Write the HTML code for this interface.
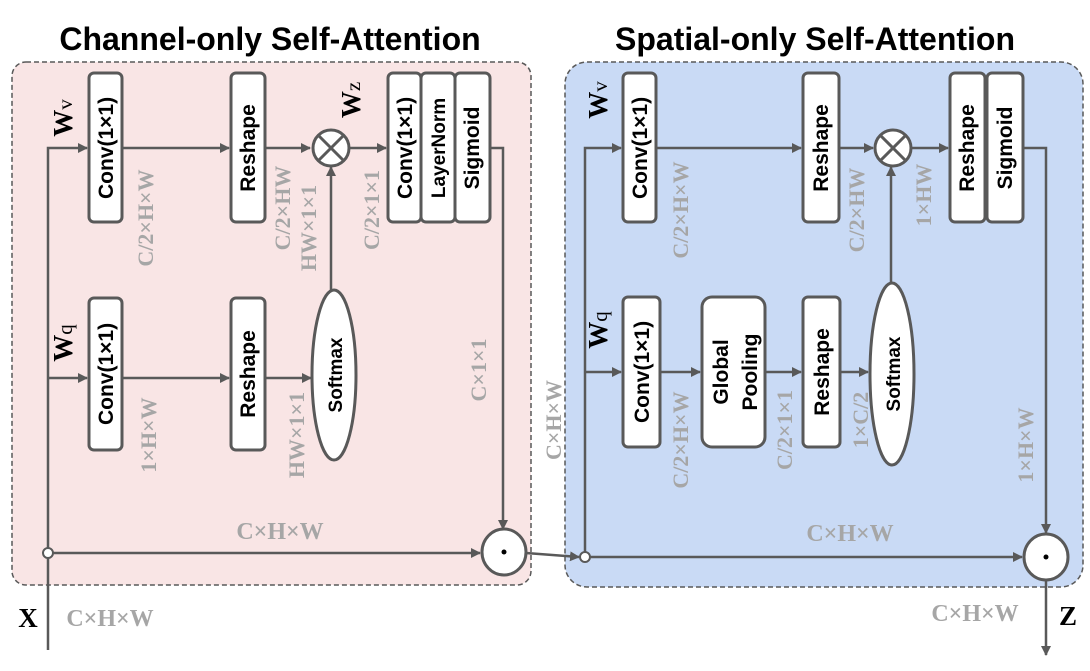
<!DOCTYPE html>
<html><head><meta charset="utf-8"><style>
html,body{margin:0;padding:0;background:#fff;width:1090px;height:671px;overflow:hidden}
svg{display:block}
.b{fill:#fff;stroke:#595959;stroke-width:3}
.t{font-family:"Liberation Sans",sans-serif;font-weight:bold;font-size:21px;fill:#000}
.g{font-family:"Liberation Serif",serif;font-weight:bold;font-size:22px;fill:#a6a6a6}
.w{font-family:"Liberation Serif",serif;font-weight:bold;font-size:27px;fill:#000}
.l{stroke:#595959;stroke-width:2.5;fill:none}
</style></head><body>
<svg width="1090" height="671" viewBox="0 0 1090 671">
<defs><marker id="a" markerWidth="10" markerHeight="10" refX="9" refY="5" orient="auto" markerUnits="userSpaceOnUse"><path d="M0,0 L10,5 L0,10 z" fill="#595959"/></marker></defs>
<text x="270" y="50" text-anchor="middle" style="font-family:'Liberation Sans',sans-serif;font-weight:bold;font-size:32px">Channel-only Self-Attention</text>
<text x="815" y="50" text-anchor="middle" style="font-family:'Liberation Sans',sans-serif;font-weight:bold;font-size:32px">Spatial-only Self-Attention</text>
<rect x="12" y="62" width="519" height="523" rx="14" fill="#f9e5e5" stroke="#595959" stroke-width="1.5" stroke-dasharray="5,3"/>
<rect x="565" y="62" width="518" height="525" rx="22" fill="#c9daf5" stroke="#595959" stroke-width="1.5" stroke-dasharray="5,3"/>

<path class="l" d="M48,650 V148 H87" marker-end="url(#a)"/>
<path class="l" d="M48,378 H87" marker-end="url(#a)"/>
<path class="l" d="M122,148 H229" marker-end="url(#a)"/>
<path class="l" d="M266,148 H310" marker-end="url(#a)"/>
<path class="l" d="M122,378 H229" marker-end="url(#a)"/>
<path class="l" d="M266,378 H311" marker-end="url(#a)"/>
<path class="l" d="M331,290 V167" marker-end="url(#a)"/>
<path class="l" d="M349,148 H386" marker-end="url(#a)"/>
<path class="l" d="M490,148 H503 V529" marker-end="url(#a)"/>
<path class="l" d="M53,553 H480" marker-end="url(#a)"/>
<path class="l" d="M526,553 L579,557" marker-end="url(#a)"/>
<circle cx="48" cy="553" r="5" fill="#fff" stroke="#595959" stroke-width="2"/>
<ellipse cx="504" cy="552" rx="22" ry="23" class="b"/><circle cx="504" cy="552" r="2.5" fill="#000"/>
<circle cx="331" cy="148" r="18" class="b"/><path d="M318,135 L344,161 M344,135 L318,161" stroke="#595959" stroke-width="3"/>

<rect x="89" y="73" width="33" height="149" rx="5" class="b"/>
<rect x="231" y="73" width="34" height="149" rx="5" class="b"/>
<rect x="388" y="73" width="33" height="149" rx="5" class="b"/>
<rect x="421" y="73" width="34" height="149" rx="5" class="b"/>
<rect x="455" y="73" width="35" height="149" rx="5" class="b"/>
<rect x="89" y="298" width="33" height="152" rx="5" class="b"/>
<rect x="231" y="298" width="34" height="152" rx="5" class="b"/>
<ellipse cx="334" cy="375" rx="22" ry="85" class="b"/>

<g class="t" text-anchor="middle">
<text transform="translate(106,148) rotate(-90)" dy="7">Conv(1×1)</text>
<text transform="translate(248,148) rotate(-90)" dy="7">Reshape</text>
<text transform="translate(405,148) rotate(-90)" dy="7">Conv(1×1)</text>
<text transform="translate(438,148) rotate(-90)" dy="7" style="font-size:19px">LayerNorm</text>
<text transform="translate(472,148) rotate(-90)" dy="7">Sigmoid</text>
<text transform="translate(106,374) rotate(-90)" dy="7">Conv(1×1)</text>
<text transform="translate(248,374) rotate(-90)" dy="7">Reshape</text>
<text transform="translate(335,375) rotate(-90)" dy="7" style="font-size:19px">Softmax</text>
</g>
<g class="w" text-anchor="middle">
<text transform="translate(63,118) rotate(-90)" dy="9">W<tspan style="font-weight:normal;font-size:21px">v</tspan></text>
<text transform="translate(63,343) rotate(-90)" dy="9">W<tspan style="font-weight:normal;font-size:21px">q</tspan></text>
<text transform="translate(351,100) rotate(-90)" dy="9">W<tspan style="font-weight:normal;font-size:21px">z</tspan></text>
<text transform="translate(598,100) rotate(-90)" dy="9">W<tspan style="font-weight:normal;font-size:21px">v</tspan></text>
<text transform="translate(598,330) rotate(-90)" dy="9">W<tspan style="font-weight:normal;font-size:21px">q</tspan></text>
</g>
<g class="g" text-anchor="middle">
<text transform="translate(145,218) rotate(-90)" dy="8">C/2×H×W</text>
<text transform="translate(282,208) rotate(-90)" dy="8">C/2×HW</text>
<text transform="translate(308,228) rotate(-90)" dy="8">HW×1×1</text>
<text transform="translate(371,210) rotate(-90)" dy="8">C/2×1×1</text>
<text transform="translate(478,370) rotate(-90)" dy="8">C×1×1</text>
<text transform="translate(148,435) rotate(-90)" dy="8">1×H×W</text>
<text transform="translate(296,435) rotate(-90)" dy="8">HW×1×1</text>
<text transform="translate(553,420) rotate(-90)" dy="8">C×H×W</text>
<text x="280" y="539" style="font-size:24px">C×H×W</text>
<text x="110" y="626" style="font-size:24px">C×H×W</text>
<text transform="translate(680,210) rotate(-90)" dy="8">C/2×H×W</text>
<text transform="translate(856,210) rotate(-90)" dy="8">C/2×HW</text>
<text transform="translate(923,195) rotate(-90)" dy="8">1×HW</text>
<text transform="translate(680,440) rotate(-90)" dy="8">C/2×H×W</text>
<text transform="translate(784,430) rotate(-90)" dy="8">C/2×1×1</text>
<text transform="translate(860,420) rotate(-90)" dy="8">1×C/2</text>
<text transform="translate(1025,445) rotate(-90)" dy="8">1×H×W</text>
<text x="850" y="541" style="font-size:24px">C×H×W</text>
<text x="975" y="621" style="font-size:24px">C×H×W</text>
</g>
<text x="28" y="627" text-anchor="middle" class="w" style="font-size:27px">X</text>
<text x="1068" y="625" text-anchor="middle" class="w" style="font-size:27px">Z</text>

<path class="l" d="M585,552 V148 H621" marker-end="url(#a)"/>
<path class="l" d="M585,372 H621" marker-end="url(#a)"/>
<path class="l" d="M656,148 H801" marker-end="url(#a)"/>
<path class="l" d="M839,148 H873" marker-end="url(#a)"/>
<path class="l" d="M891,283 V167" marker-end="url(#a)"/>
<path class="l" d="M911,148 H948" marker-end="url(#a)"/>
<path class="l" d="M1023,148 H1046 V533" marker-end="url(#a)"/>
<path class="l" d="M660,372 H700" marker-end="url(#a)"/>
<path class="l" d="M766,372 H801" marker-end="url(#a)"/>
<path class="l" d="M840,372 H868" marker-end="url(#a)"/>
<path class="l" d="M590,557 H1022" marker-end="url(#a)"/>
<path class="l" d="M1046,580 V655" marker-end="url(#a)"/>
<circle cx="585" cy="557" r="5" fill="#fff" stroke="#595959" stroke-width="2"/>
<ellipse cx="1046" cy="557" rx="22" ry="23" class="b"/><circle cx="1046" cy="557" r="2.5" fill="#000"/>
<circle cx="893" cy="148" r="18" class="b"/><path d="M880,135 L906,161 M906,135 L880,161" stroke="#595959" stroke-width="3"/>

<rect x="623" y="73" width="33" height="149" rx="5" class="b"/>
<rect x="803" y="73" width="36" height="149" rx="5" class="b"/>
<rect x="950" y="73" width="35" height="149" rx="5" class="b"/>
<rect x="987" y="73" width="36" height="149" rx="5" class="b"/>
<rect x="623" y="297" width="37" height="150" rx="5" class="b"/>
<rect x="702" y="297" width="63" height="150" rx="10" class="b"/>
<rect x="803" y="297" width="37" height="150" rx="5" class="b"/>
<ellipse cx="892" cy="374" rx="22" ry="91" class="b"/>
<g class="t" text-anchor="middle">
<text transform="translate(640,148) rotate(-90)" dy="7">Conv(1×1)</text>
<text transform="translate(821,148) rotate(-90)" dy="7">Reshape</text>
<text transform="translate(967,148) rotate(-90)" dy="7">Reshape</text>
<text transform="translate(1005,148) rotate(-90)" dy="7">Sigmoid</text>
<text transform="translate(642,372) rotate(-90)" dy="7">Conv(1×1)</text>
<text transform="translate(721,372) rotate(-90)" dy="7">Global</text>
<text transform="translate(750,372) rotate(-90)" dy="7">Pooling</text>
<text transform="translate(822,372) rotate(-90)" dy="7">Reshape</text>
<text transform="translate(893,374) rotate(-90)" dy="7" style="font-size:19px">Softmax</text>
</g>
</svg>
</body></html>
